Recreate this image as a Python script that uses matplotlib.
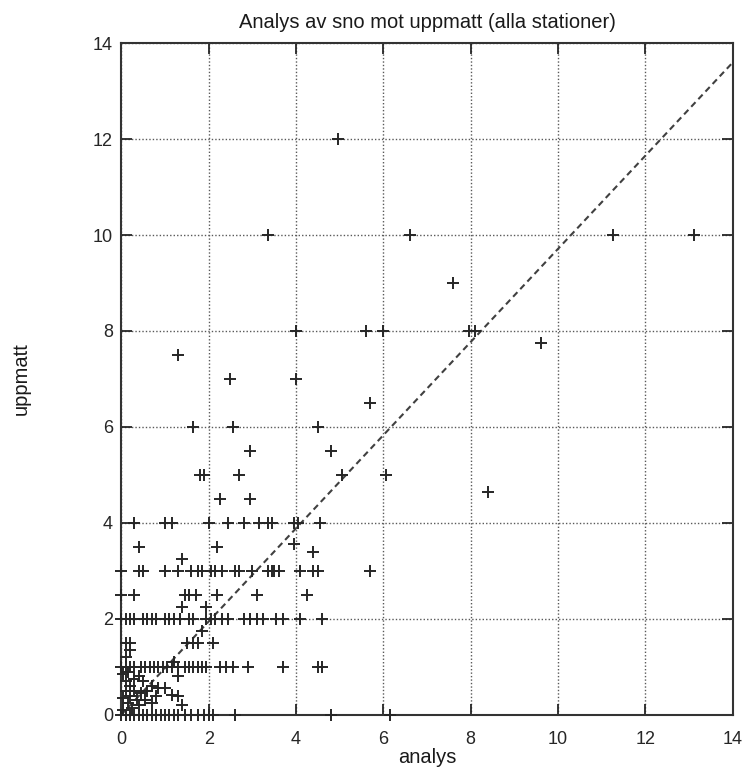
import matplotlib
matplotlib.use("Agg")
import matplotlib.pyplot as plt

plt.rcParams['font.family'] = ['Liberation Sans', 'DejaVu Sans']

title = "Analys av sno mot uppmatt (alla stationer)"
xlabel = "analys"
ylabel = "uppmatt"
ticks = [0, 2, 4, 6, 8, 10, 12, 14]

# upper / sparse points
analys_hi = [4.95, 3.35, 6.6, 11.25, 13.1, 7.6, 4.0, 5.6, 6.0, 7.95, 8.1, 9.6,
             1.3, 2.5, 4.0, 5.7, 1.65, 2.55, 4.5, 2.95, 4.8, 1.8, 1.9, 2.7, 5.05,
             6.05, 8.4, 2.25, 2.95]
uppmatt_hi = [12, 10, 10, 10, 10, 9, 8, 8, 8, 8, 8, 7.75,
              7.5, 7, 7, 6.5, 6, 6, 6, 5.5, 5.5, 5, 5, 5, 5,
              5, 4.65, 4.5, 4.5]

# rows y = 4 .. 2.25
analys_mid = [0.3, 1.0, 1.15, 2.0, 2.45, 2.8, 3.15, 3.35, 3.45, 3.95, 4.05, 4.55,
              0.4, 2.2, 3.95, 4.4, 1.4,
              0.0, 0.4, 0.5, 1.0, 1.3, 1.6, 1.75, 1.85, 2.05, 2.15, 2.3, 2.6, 2.7,
              3.0, 3.35, 3.45, 3.5, 3.6, 4.1, 4.4, 4.5, 5.7,
              0.0, 0.3, 1.45, 1.55, 1.7, 2.2, 3.1, 4.25,
              1.4, 1.95]
uppmatt_mid = [4, 4, 4, 4, 4, 4, 4, 4, 4, 4, 4, 4,
               3.5, 3.5, 3.55, 3.4, 3.25,
               3, 3, 3, 3, 3, 3, 3, 3, 3, 3, 3, 3, 3,
               3, 3, 3, 3, 3, 3, 3, 3, 3,
               2.5, 2.5, 2.5, 2.5, 2.5, 2.5, 2.5, 2.5,
               2.25, 2.25]

# rows y = 2 .. 1
analys_low = [0.0, 0.1, 0.2, 0.3, 0.5, 0.6, 0.7, 0.8, 1.0, 1.1, 1.2, 1.35, 1.55,
              1.65, 1.95, 2.05, 2.15, 2.3, 2.45, 2.8, 2.95, 3.1, 3.25, 3.55, 3.7,
              4.1, 4.6,
              1.85, 0.1, 0.2, 1.5, 1.65, 1.75, 2.1, 0.2, 0.1, 1.2,
              0.0, 0.1, 0.2, 0.3, 0.45, 0.55, 0.65, 0.75, 0.85, 0.95, 1.05, 1.15,
              1.3, 1.45, 1.55, 1.65, 1.75, 1.85, 1.95, 2.25, 2.4, 2.55, 2.9, 3.7,
              4.5, 4.6]
uppmatt_low = [2, 2, 2, 2, 2, 2, 2, 2, 2, 2, 2, 2, 2,
               2, 2, 2, 2, 2, 2, 2, 2, 2, 2, 2, 2,
               2, 2,
               1.75, 1.5, 1.5, 1.5, 1.5, 1.5, 1.5, 1.35, 1.2, 1.1,
               1, 1, 1, 1, 1, 1, 1, 1, 1, 1, 1, 1,
               1, 1, 1, 1, 1, 1, 1, 1, 1, 1, 1, 1,
               1, 1]

# cluster near origin and zero row
analys_zero = [1.3, 0.4, 0.5, 0.7, 0.85, 1.0, 1.15, 1.3, 0.05, 0.1, 0.2, 0.1, 0.3,
               0.2, 0.05, 0.35, 0.15, 0.25, 0.05, 0.45, 0.55, 0.6, 0.3, 0.15, 0.4,
               0.7, 0.8, 1.4,
               0.0, 0.1, 0.2, 0.3, 0.4, 0.5, 0.6, 0.7, 0.8, 0.9, 1.0, 1.1, 1.2,
               1.3, 1.45, 1.6, 1.75, 1.9, 2.0, 2.1, 2.6, 4.8, 6.15]
uppmatt_zero = [0.8, 0.8, 0.7, 0.6, 0.55, 0.55, 0.42, 0.38, 0.85, 0.7, 0.6, 0.5, 0.5,
                0.4, 0.35, 0.3, 0.25, 0.15, 0.1, 0.45, 0.3, 0.5, 0.75, 0.9, 0.2,
                0.25, 0.4, 0.2,
                0, 0, 0, 0, 0, 0, 0, 0, 0, 0, 0, 0, 0,
                0, 0, 0, 0, 0, 0, 0, 0, 0, 0]

line_x = [0, 14]
line_y = [0, 13.6]

fig = plt.figure(figsize=(7.44, 7.71), dpi=100)
ax = fig.add_axes([0.163, 0.073, 0.822, 0.871])

ax.plot(line_x, line_y, linestyle=(0, (3, 2)), color='0.25', lw=1.5, zorder=2)

ms = 9
for xs, ys in [(analys_hi, uppmatt_hi), (analys_mid, uppmatt_mid),
               (analys_low, uppmatt_low), (analys_zero, uppmatt_zero)]:
    ax.plot(xs, ys, linestyle='none', marker='+', markersize=ms,
            markeredgewidth=1.4, color='0.15', clip_on=False, zorder=3)

ax.set_xlim(0, 14)
ax.set_ylim(0, 14)
ax.set_xticks(ticks)
ax.set_yticks(ticks)
ax.grid(True, linestyle=(0, (1, 1.5)), color='0.35', lw=1.0)
ax.set_axisbelow(True)
ax.tick_params(direction='in', length=8, width=1.3, top=True, right=True,
               labelsize=13, colors='0.15', pad=6)
ax.tick_params(axis='x', pad=12)
for s in ax.spines.values():
    s.set_linewidth(1.5)
    s.set_color('0.2')

ax.set_title(title, fontsize=14.5, color='0.1', pad=11)
ax.set_xlabel(xlabel, fontsize=14.5, color='0.1', labelpad=0)
ax.set_ylabel(ylabel, fontsize=14.5, color='0.1', labelpad=45)

fig.savefig("out.png", dpi=100)
